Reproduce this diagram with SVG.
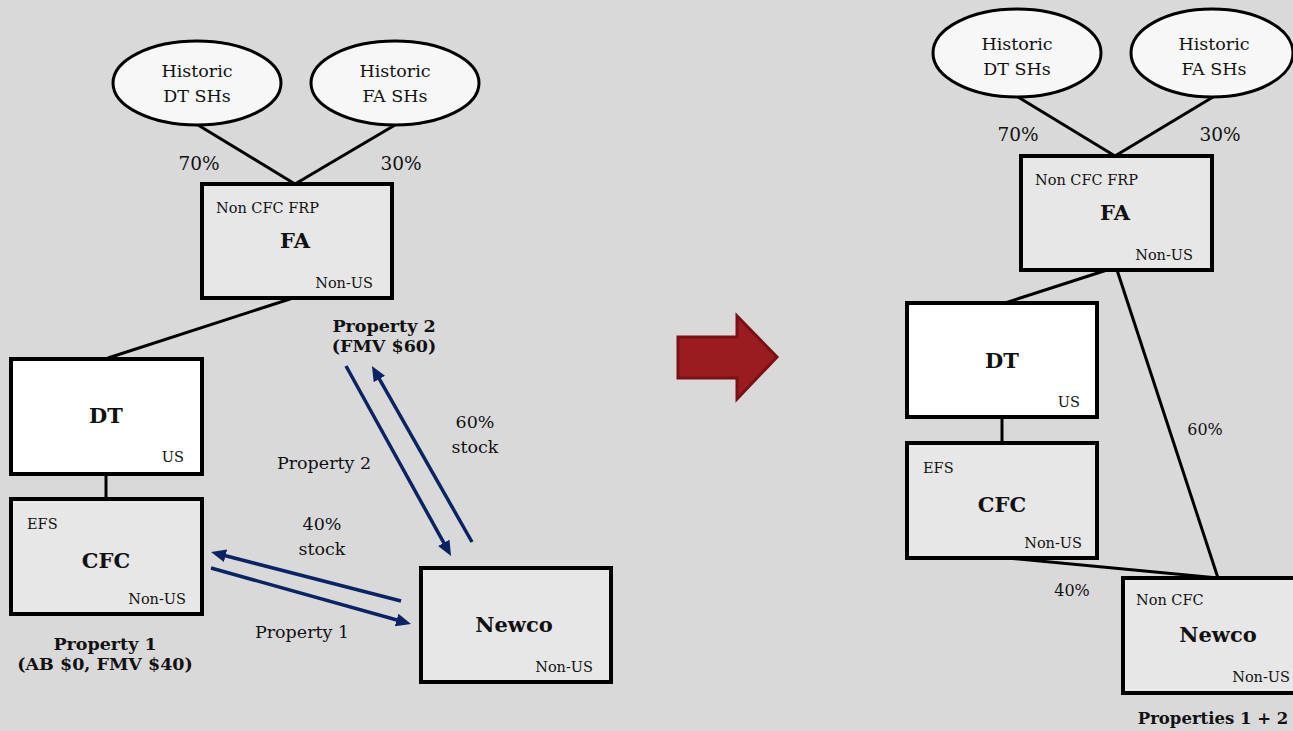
<svg xmlns="http://www.w3.org/2000/svg" width="1293" height="731" viewBox="0 0 1293 731">
  <style>
    text { font-family: "DejaVu Serif", "Liberation Serif", serif; fill: #111; }
    .t { font-size: 17.5px; }
    .pct { font-size: 18.5px; }
    .pct2 { font-size: 16px; }
    .sm { font-size: 14.5px; }
    .name { font-size: 21px; font-weight: bold; text-anchor: middle; }
    .bl { font-size: 17.5px; font-weight: bold; text-anchor: middle; }
    .mid { text-anchor: middle; }
    .end { text-anchor: end; }
    .box { fill: #e7e7e7; stroke: #000; stroke-width: 4; }
    .boxw { fill: #ffffff; stroke: #000; stroke-width: 4; }
    .oval { fill: #f7f7f7; stroke: #000; stroke-width: 3; }
    .own { stroke: #000; stroke-width: 3; fill: none; }
    .flow { stroke: #0a2463; stroke-width: 3.5; fill: none; marker-end: url(#head); }
  </style>
  <defs>
    <marker id="head" markerUnits="userSpaceOnUse" viewBox="0 0 15 13" markerWidth="15" markerHeight="13" refX="5" refY="6.5" orient="auto">
      <path d="M0,0 L15,6.5 L0,13 z" fill="#0a2463"/>
    </marker>
  </defs>

  <rect width="1293" height="731" fill="#d9d9d9"/>

  <!-- ownership lines and transfer arrows -->
  <g id="connectors">
    <!-- before -->
    <line class="own" x1="198" y1="125" x2="295" y2="184"/>
    <line class="own" x1="395" y1="125" x2="295" y2="184"/>
    <line class="own" x1="293" y1="298" x2="108" y2="358"/>
    <line class="own" x1="106" y1="474" x2="106" y2="499"/>
    <line class="flow" x1="346" y1="366" x2="446.2" y2="547.2"/>
    <line class="flow" x1="472" y1="542" x2="376.9" y2="374.7"/>
    <line class="flow" x1="401" y1="601" x2="220.7" y2="554.5"/>
    <line class="flow" x1="211" y1="568" x2="401.4" y2="621.3"/>
    <!-- after -->
    <line class="own" x1="1018" y1="97" x2="1115" y2="156"/>
    <line class="own" x1="1213" y1="97" x2="1115" y2="156"/>
    <line class="own" x1="1107" y1="270" x2="1005" y2="303"/>
    <line class="own" x1="1117" y1="270" x2="1218" y2="578"/>
    <line class="own" x1="1002" y1="417" x2="1002" y2="443"/>
    <line class="own" x1="1007" y1="558" x2="1218" y2="578"/>
  </g>

  <!-- edge labels -->
  <g id="edge-labels">
    <text class="pct mid" x="199" y="170">70%</text>
    <text class="pct mid" x="401" y="170">30%</text>
    <text class="t mid" x="324" y="469">Property 2</text>
    <text class="t mid" x="475" y="428">60%</text>
    <text class="t mid" x="475" y="453">stock</text>
    <text class="t mid" x="322" y="530">40%</text>
    <text class="t mid" x="322" y="555">stock</text>
    <text class="t mid" x="302" y="638">Property 1</text>
    <text class="bl" x="384" y="332">Property 2</text>
    <text class="bl" x="384" y="352">(FMV $60)</text>
    <text class="bl" x="105" y="650">Property 1</text>
    <text class="bl" x="105" y="670">(AB $0, FMV $40)</text>

    <text class="pct mid" x="1018" y="141">70%</text>
    <text class="pct mid" x="1220" y="141">30%</text>
    <text class="pct2 mid" x="1205" y="435">60%</text>
    <text class="pct2 mid" x="1072" y="596">40%</text>
    <text class="bl" x="1213" y="724" style="font-size:16.5px">Properties 1 + 2</text>
  </g>

  <!-- step arrow -->
  <path id="step-arrow" d="M678,337 L737,337 L737,316 L777,357 L737,399 L737,378 L678,378 Z" fill="#9b1c20" stroke="#7a1014" stroke-width="3" stroke-linejoin="miter"/>

  <!-- before: nodes -->
  <g id="hist-dt-1">
    <ellipse class="oval" cx="197" cy="83" rx="84" ry="42"/>
    <text class="t mid" x="197" y="77">Historic</text>
    <text class="t mid" x="197" y="102">DT SHs</text>
  </g>
  <g id="hist-fa-1">
    <ellipse class="oval" cx="395" cy="83" rx="84" ry="42"/>
    <text class="t mid" x="395" y="77">Historic</text>
    <text class="t mid" x="395" y="102">FA SHs</text>
  </g>
  <g id="fa-1">
    <rect class="box" x="202" y="184" width="190" height="114"/>
    <text class="sm" x="216" y="213">Non CFC FRP</text>
    <text class="name" x="295" y="248">FA</text>
    <text class="sm end" x="373" y="288">Non-US</text>
  </g>
  <g id="dt-1">
    <rect class="boxw" x="11" y="359" width="191" height="115"/>
    <text class="name" x="106" y="423">DT</text>
    <text class="sm end" x="184" y="462">US</text>
  </g>
  <g id="cfc-1">
    <rect class="box" x="11" y="499" width="191" height="115"/>
    <text class="sm" x="27" y="529">EFS</text>
    <text class="name" x="106" y="568">CFC</text>
    <text class="sm end" x="186" y="604">Non-US</text>
  </g>
  <g id="newco-1">
    <rect class="box" x="421" y="568" width="190" height="114"/>
    <text class="name" x="514" y="632">Newco</text>
    <text class="sm end" x="593" y="672">Non-US</text>
  </g>

  <!-- after: nodes -->
  <g id="hist-dt-2">
    <ellipse class="oval" cx="1017" cy="53" rx="84" ry="44"/>
    <text class="t mid" x="1017" y="50">Historic</text>
    <text class="t mid" x="1017" y="75">DT SHs</text>
  </g>
  <g id="hist-fa-2">
    <ellipse class="oval" cx="1212" cy="53" rx="81" ry="44"/>
    <text class="t mid" x="1214" y="50">Historic</text>
    <text class="t mid" x="1214" y="75">FA SHs</text>
  </g>
  <g id="fa-2">
    <rect class="box" x="1021" y="156" width="191" height="114"/>
    <text class="sm" x="1035" y="185">Non CFC FRP</text>
    <text class="name" x="1115" y="220">FA</text>
    <text class="sm end" x="1193" y="260">Non-US</text>
  </g>
  <g id="dt-2">
    <rect class="boxw" x="907" y="303" width="190" height="114"/>
    <text class="name" x="1002" y="368">DT</text>
    <text class="sm end" x="1080" y="407">US</text>
  </g>
  <g id="cfc-2">
    <rect class="box" x="907" y="443" width="190" height="115"/>
    <text class="sm" x="923" y="473">EFS</text>
    <text class="name" x="1002" y="512">CFC</text>
    <text class="sm end" x="1082" y="548">Non-US</text>
  </g>
  <g id="newco-2">
    <rect class="box" x="1123" y="578" width="190" height="115"/>
    <text class="sm" x="1136" y="605">Non CFC</text>
    <text class="name" x="1218" y="642">Newco</text>
    <text class="sm end" x="1290" y="682">Non-US</text>
  </g>
</svg>
